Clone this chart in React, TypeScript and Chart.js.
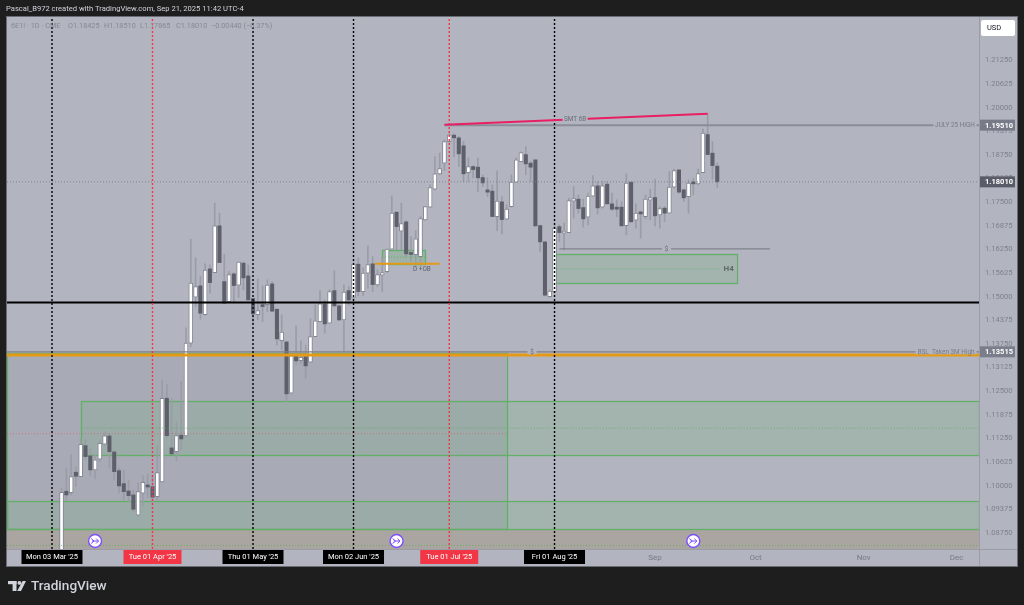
import React, { useEffect, useRef } from "react";
import { Chart, registerables } from "chart.js";

Chart.register(...registerables);

// Daily candles, in session order (first session shown is the third after Mon 03 Mar '25)
const opens = [
  1.0680, 1.09827, 1.09790, 1.1033, 1.10214, 1.11034, 1.10761, 1.10391, 1.10674, 1.11071,
  1.1129, 1.10867, 1.10372, 1.10029, 1.09835, 1.0973, 1.09192, 1.09774, 1.09968, 1.09949,
  1.09685, 1.10073, 1.12288, 1.10973, 1.10875, 1.11309, 1.1129, 1.13743, 1.1496, 1.15259,
  1.14499, 1.15708, 1.1561, 1.16846, 1.15372, 1.14843, 1.15576, 1.15277, 1.15859, 1.15523,
  1.14923, 1.14499, 1.14748, 1.14764, 1.15312, 1.14642, 1.13812, 1.13777, 1.1242, 1.13415,
  1.13282, 1.13388, 1.1324, 1.13917, 1.14314, 1.14782, 1.14272, 1.15134, 1.1473, 1.14359,
  1.15134, 1.14941, 1.15833, 1.15108, 1.15595, 1.15841, 1.15285, 1.15542, 1.15637, 1.1623,
  1.17208, 1.16706, 1.16952, 1.16105, 1.16087, 1.16034, 1.17005, 1.17341, 1.17817, 1.18222,
  1.18505, 1.19076, 1.19245, 1.19174, 1.18962, 1.18256, 1.18415, 1.18399, 1.18124, 1.17798,
  1.17764, 1.17092, 1.17481, 1.17023, 1.17357, 1.18002, 1.18547, 1.18732, 1.18505, 1.18592,
  1.16854, 1.16423, 1.14976, 1.15108, 1.16827, 1.16653, 1.16669, 1.17499, 1.17552, 1.1733,
  1.17076, 1.17632, 1.17904, 1.17341, 1.17949, 1.17428, 1.17304, 1.17341, 1.16854, 1.18002,
  1.16997, 1.17182, 1.17092, 1.17526, 1.17595, 1.17137, 1.17314, 1.17182, 1.1787, 1.18327,
  1.17798, 1.17621, 1.17984, 1.17957, 1.18256, 1.19261, 1.18769, 1.18425,
];
const closes = [
  1.09801, 1.0973, 1.10214, 1.10224, 1.11071, 1.10743, 1.10391, 1.10656, 1.11097, 1.1129,
  1.10875, 1.10346, 1.09968, 1.09817, 1.09711, 1.09351, 1.09817, 1.10066, 1.09941, 1.09669,
  1.10319, 1.12288, 1.11298, 1.10814, 1.11298, 1.11211, 1.13743, 1.1533, 1.1524, 1.14536,
  1.15674, 1.15346, 1.16846, 1.15875, 1.14801, 1.15558, 1.15267, 1.15886, 1.1547, 1.14888,
  1.14518, 1.14605, 1.14711, 1.15277, 1.14589, 1.13857, 1.14034, 1.12402, 1.13407, 1.13275,
  1.13372, 1.13142, 1.13917, 1.14333, 1.14782, 1.14253, 1.15108, 1.1473, 1.14359, 1.15092,
  1.14888, 1.15833, 1.15108, 1.15595, 1.15822, 1.15293, 1.15558, 1.1561, 1.1623, 1.17182,
  1.16827, 1.16907, 1.16105, 1.1609, 1.16502, 1.17039, 1.17357, 1.17859, 1.18222, 1.18362,
  1.19076, 1.19253, 1.19174, 1.18751, 1.18222, 1.18415, 1.18335, 1.18116, 1.17984, 1.17738,
  1.17092, 1.17499, 1.17013, 1.17288, 1.18002, 1.18592, 1.18785, 1.18486, 1.18399, 1.16846,
  1.16423, 1.15013, 1.15118, 1.16785, 1.16669, 1.16687, 1.17515, 1.17568, 1.17304, 1.17031,
  1.17632, 1.17904, 1.17322, 1.17904, 1.17428, 1.17288, 1.17288, 1.16846, 1.17976, 1.16952,
  1.17182, 1.17163, 1.17552, 1.17595, 1.17111, 1.17304, 1.17182, 1.1787, 1.18309, 1.17738,
  1.17587, 1.17976, 1.17957, 1.1823, 1.19298, 1.18732, 1.18441, 1.1801,
];
const highs = [
  1.09915, 1.10444, 1.10796, 1.1047, 1.11211, 1.11211, 1.10973, 1.10788, 1.11185, 1.11404,
  1.11343, 1.10894, 1.10444, 1.10391, 1.10126, 1.09862, 1.10047, 1.1024, 1.10285, 1.10206,
  1.11026, 1.12772, 1.1264, 1.12269, 1.11669, 1.12727, 1.14148, 1.16494, 1.15999, 1.15505,
  1.15841, 1.15814, 1.17447, 1.17182, 1.16097, 1.15637, 1.15603, 1.15894, 1.1589, 1.15814,
  1.14923, 1.15436, 1.15259, 1.15417, 1.15372, 1.14642, 1.14491, 1.13777, 1.13478, 1.142,
  1.13804, 1.13698, 1.14386, 1.14756, 1.15134, 1.14888, 1.15153, 1.15655, 1.14756, 1.15285,
  1.1524, 1.15841, 1.15999, 1.15735, 1.16317, 1.16034, 1.15682, 1.16034, 1.16238, 1.1764,
  1.17216, 1.17447, 1.16978, 1.16563, 1.16722, 1.17092, 1.17357, 1.1793, 1.18679, 1.18769,
  1.19121, 1.1928, 1.1928, 1.19208, 1.19076, 1.18645, 1.18433, 1.18637, 1.18195, 1.18116,
  1.1793, 1.18301, 1.17621, 1.17402, 1.18195, 1.18653, 1.18804, 1.18944, 1.18547, 1.18592,
  1.16854, 1.16423, 1.15153, 1.16827, 1.16872, 1.16917, 1.17579, 1.17886, 1.17666, 1.17552,
  1.17711, 1.18177, 1.18018, 1.18018, 1.18018, 1.17711, 1.17534, 1.17489, 1.18222, 1.18002,
  1.17428, 1.17224, 1.17666, 1.17817, 1.18081, 1.17357, 1.17357, 1.18282, 1.18346, 1.18327,
  1.17825, 1.18063, 1.18108, 1.18346, 1.19412, 1.19809, 1.19076, 1.1851,
];
const lows = [
  1.065, 1.09579, 1.0973, 1.09949, 1.1021, 1.10656, 1.10232, 1.10153, 1.1061, 1.11052,
  1.10444, 1.10126, 1.09782, 1.09597, 1.09552, 1.09288, 1.09148, 1.09439, 1.0965, 1.09526,
  1.09597, 1.10047, 1.11238, 1.1081, 1.10637, 1.1092, 1.11264, 1.13653, 1.14711, 1.14378,
  1.14484, 1.15066, 1.1561, 1.15875, 1.14801, 1.1484, 1.14801, 1.14949, 1.15153, 1.14888,
  1.14272, 1.14359, 1.14314, 1.14579, 1.14589, 1.13698, 1.13566, 1.12198, 1.12402, 1.13169,
  1.13195, 1.12825, 1.1324, 1.13917, 1.14314, 1.14007, 1.14272, 1.14711, 1.1434, 1.13521,
  1.14756, 1.14933, 1.14994, 1.14994, 1.15198, 1.15108, 1.1524, 1.15108, 1.1561, 1.1623,
  1.16211, 1.16211, 1.16034, 1.15902, 1.15753, 1.15769, 1.16986, 1.1733, 1.17798, 1.18195,
  1.18309, 1.1906, 1.18679, 1.18415, 1.18018, 1.18018, 1.18116, 1.17753, 1.17886, 1.17621,
  1.17092, 1.16722, 1.16634, 1.17005, 1.17341, 1.17991, 1.18547, 1.18195, 1.18018, 1.16828,
  1.16166, 1.14994, 1.1496, 1.15108, 1.16431, 1.16211, 1.16669, 1.1705, 1.17182, 1.16812,
  1.16872, 1.17621, 1.17163, 1.17314, 1.17428, 1.17251, 1.17092, 1.16846, 1.16608, 1.16952,
  1.16785, 1.16521, 1.17023, 1.17005, 1.16846, 1.16785, 1.1696, 1.17182, 1.17843, 1.17711,
  1.17489, 1.17182, 1.17666, 1.1793, 1.18256, 1.18724, 1.18081, 1.17865,
];
const firstSession = 2;

// Price axis
const priceMin = 1.083;
const priceMax = 1.2237;
const priceStep = 0.00625;
const topTickLimit = 1.215;

// Time axis, in sessions from Mon 03 Mar '25
const sessionMin = -9.4;
const sessionMax = 193.69;
const monthTickSessions = [126, 147, 169.6, 189];
const monthTickLabels = ["Sep", "Oct", "Nov", "Dec"];

const markerSessions = [0, 21, 42, 63, 83, 105];
const markerLabels = ["Mon 03 Mar '25", "Tue 01 Apr '25", "Thu 01 May '25", "Mon 02 Jun '25", "Tue 01 Jul '25", "Fri 01 Aug '25"];
const markerColors = ["#000000", "#f23645", "#000000", "#000000", "#f23645", "#000000"];
const replaySessions = [9, 72, 134];

// Levels
const lastPrice = 1.1801;
const julyHigh = 1.1951;
const bslLevel = 1.13515;
const orangeLevel = 1.13433;
const blackLevel = 1.1482;
const redDotLevel = 1.1135;
const sweepLevel = 1.16237;
const smtFrom = [82, 1.19518];
const smtTo = [137, 1.19809];

// Zones: [from session, to session, upper price, lower price]
const grayBox = [sessionMin, 95, 1.13486, 1.0883];
const greenUpper = [6, sessionMax, 1.12203, 1.10788];
const greenLower = [sessionMin, sessionMax, 1.09558, 1.0883];
const brownZone = [sessionMin, sessionMax, 1.0883, priceMin];
const brownMid = 1.08393;
const h4Zone = [105, 143, 1.16097, 1.1532];
const obZone = [69, 78, 1.16211, 1.15833];

const priceBadges = [julyHigh, lastPrice, bslLevel];
const priceBadgeColors = ["#777a87", "#595c68", "#7a7d8a"];

const ohlcText = ["6E1! · 1D · CME", "O1.18425", "H1.18510", "L1.17865", "C1.18010", "−0.00440 (−0.37%)"];
const headerText = "Pascal_B972 created with TradingView.com, Sep 21, 2025 11:42 UTC-4";

const FONT = "Roboto, 'Noto Sans', sans-serif";
const PANE = "#b2b5bf";
const GREEN = "#62b068";

function hline(y: number, x0: number, x1: number, color: string, width: number, dash: number[] = [], order = 1) {
  return {
    type: "line" as const,
    data: [{ x: x0, y }, { x: x1, y }],
    borderColor: color,
    borderWidth: width,
    borderDash: dash,
    pointRadius: 0,
    order,
  };
}

const overlay = {
  id: "overlay",
  beforeDraw(chart: any) {
    const c = chart.ctx;
    c.save();
    c.fillStyle = "#1e1e1e";
    c.fillRect(0, 0, 1024, 605);
    c.fillStyle = PANE;
    c.fillRect(6.5, 16.5, 1011, 550);
    c.strokeStyle = "#6b6d75";
    c.lineWidth = 1;
    c.strokeRect(6.5, 16.5, 1011, 550);
    c.strokeStyle = "#9a9da7";
    c.beginPath();
    c.moveTo(979.5, 17);
    c.lineTo(979.5, 566);
    c.moveTo(7, 549.5);
    c.lineTo(1017, 549.5);
    c.stroke();
    c.fillStyle = "#d1d4dc";
    c.font = `7.6px ${FONT}`;
    c.textBaseline = "middle";
    c.textAlign = "left";
    c.fillText(headerText, 6, 9.5);
    // logo
    c.fillStyle = "#d1d4dc";
    c.fillRect(8, 581, 8.5, 3.2);
    c.fillRect(12.6, 581, 3.9, 10);
    c.beginPath();
    c.arc(19.4, 582.9, 1.9, 0, Math.PI * 2);
    c.fill();
    c.beginPath();
    c.moveTo(22.6, 581);
    c.lineTo(26, 581);
    c.lineTo(21, 591);
    c.lineTo(17.2, 591);
    c.closePath();
    c.fill();
    c.font = `500 13.6px ${FONT}`;
    c.fillText("TradingView", 31, 586.5);
    c.restore();
  },
  beforeDatasetsDraw(chart: any) {
    const c = chart.ctx;
    const { x, y } = chart.scales;
    const area = chart.chartArea;
    const rect = (z: number[], fill: string, stroke?: string) => {
      const l = x.getPixelForValue(z[0]);
      const r = x.getPixelForValue(z[1]);
      const t = y.getPixelForValue(z[2]);
      const b = y.getPixelForValue(z[3]);
      c.fillStyle = fill;
      c.fillRect(l, t, r - l, b - t);
      if (stroke) {
        c.strokeStyle = stroke;
        c.lineWidth = 1.3;
        c.strokeRect(Math.round(l) + 0.5, Math.round(t) + 0.5, Math.round(r - l), Math.round(b - t));
      }
    };
    c.save();
    c.beginPath();
    c.rect(area.left, area.top, area.right - area.left, area.bottom - area.top);
    c.clip();
    rect(brownZone, "#aba5a1");
    rect(grayBox, "rgba(90,93,105,0.1)", GREEN);
    rect(greenUpper, "rgba(76,175,80,0.14)", GREEN);
    rect(greenLower, "rgba(76,175,80,0.14)", GREEN);
    rect(h4Zone, "rgba(76,175,80,0.14)", GREEN);
    rect(obZone, "rgba(76,175,80,0.2)", GREEN);
    c.restore();
  },
  afterDatasetsDraw(chart: any) {
    const c = chart.ctx;
    const { x, y } = chart.scales;
    const label = (text: string, cx: number, cy: number, font: string, color: string, gap = 0) => {
      c.font = font;
      c.textAlign = "center";
      c.textBaseline = "middle";
      if (gap > 0) {
        c.fillStyle = PANE;
        c.fillRect(cx - gap, cy - 2.5, gap * 2, 5);
      }
      c.fillStyle = color;
      c.fillText(text, cx, cy + 0.5);
    };
    c.save();
    const small = `6.4px ${FONT}`;
    label("JULY 25 HIGH", 955, y.getPixelForValue(julyHigh), small, "#787b86", 21.5);
    label("BSL  Taken 3M High", 946, y.getPixelForValue(bslLevel), small, "#787b86", 30.5);
    label("$", x.getPixelForValue(100.3), y.getPixelForValue(bslLevel), small, "#6a6d78", 4.5);
    label("$", x.getPixelForValue(128.4), y.getPixelForValue(sweepLevel), small, "#6a6d78", 4.5);
    const smtX = 109.3;
    const smtY = smtFrom[1] + ((smtTo[1] - smtFrom[1]) * (smtX - smtFrom[0])) / (smtTo[0] - smtFrom[0]);
    label("SMT 6B", x.getPixelForValue(smtX), y.getPixelForValue(smtY), small, "#686b76", 12.5);
    label("D +OB", x.getPixelForValue(77.3), y.getPixelForValue(1.15708), `6.4px ${FONT}`, "#5d606b");
    label("H4", x.getPixelForValue(141.4), y.getPixelForValue(1.15708), `bold 8px ${FONT}`, "#5f6b66");

    // OHLC status line
    c.font = `7.3px ${FONT}`;
    c.textAlign = "left";
    c.fillStyle = "#868994";
    const ohlcX = [11, 68, 104, 140, 176, 211];
    ohlcText.forEach((t, i) => c.fillText(t, ohlcX[i], 26));

    // date markers on the time axis
    markerSessions.forEach((s, i) => {
      const px = x.getPixelForValue(s);
      c.font = `7.5px ${FONT}`;
      const w = i === 1 || i === 4 ? 58 : 61;
      c.fillStyle = markerColors[i];
      c.fillRect(px - w / 2, 550, w, 14);
      c.fillStyle = "#ffffff";
      c.textAlign = "center";
      c.fillText(markerLabels[i], px, 557.5);
    });

    // replay icons
    replaySessions.forEach((s) => {
      const px = x.getPixelForValue(s);
      const py = 541;
      c.beginPath();
      c.arc(px, py, 6.5, 0, Math.PI * 2);
      c.fillStyle = "#ffffff";
      c.fill();
      c.lineWidth = 1.4;
      c.strokeStyle = "#7c4dff";
      c.stroke();
      c.lineWidth = 1;
      c.beginPath();
      c.moveTo(px - 4, py - 2.5);
      c.lineTo(px - 1, py);
      c.lineTo(px - 4, py + 2.5);
      c.moveTo(px - 3, py);
      c.lineTo(px + 3.5, py);
      c.moveTo(px + 1, py - 2.5);
      c.lineTo(px + 3.5, py);
      c.lineTo(px + 1, py + 2.5);
      c.stroke();
    });

    // price badges
    c.textAlign = "left";
    priceBadges.forEach((v, i) => {
      const py = y.getPixelForValue(v);
      c.fillStyle = priceBadgeColors[i];
      c.fillRect(980, py - 5.5, 35, 11);
      c.fillStyle = "#ffffff";
      c.font = `bold 7.5px ${FONT}`;
      c.fillText(v.toFixed(5), 985, py + 0.5);
    });

    // currency button
    c.fillStyle = "#ffffff";
    c.beginPath();
    c.roundRect(981, 20, 34, 16, 2);
    c.fill();
    c.fillStyle = "#131722";
    c.font = `7.5px ${FONT}`;
    c.fillText("USD", 987, 28.5);
    c.restore();
  },
};

export default function App() {
  const ref = useRef<HTMLCanvasElement>(null);
  useEffect(() => {
    document.body.style.margin = "0";
    document.documentElement.style.background = "#1e1e1e";
    const sessions = opens.map((_, i) => i + firstSession);
    const bodyData = (wantUp: boolean) =>
      sessions
        .map((s, i) => ({ up: closes[i] >= opens[i], x: s, y: [Math.min(opens[i], closes[i]), Math.max(opens[i], closes[i])] }))
        .filter((b) => b.up === wantUp)
        .map(({ x, y }) => ({ x, y }));
    const verticals = markerSessions.map((s, i) => ({
      type: "line" as const,
      data: [{ x: s, y: priceMin }, { x: s, y: priceMax }],
      borderColor: markerColors[i],
      borderWidth: 1.4,
      borderDash: [2, 2],
      pointRadius: 0,
      order: 1,
    }));
    const chart = new Chart(ref.current!, {
      type: "bar",
      data: {
        datasets: [
          {
            data: sessions.map((s, i) => ({ x: s, y: [lows[i], highs[i]] })),
            backgroundColor: "#9a9da7",
            barThickness: 1,
            grouped: false,
            order: 4,
          },
          {
            data: bodyData(true),
            backgroundColor: "#ffffff",
            borderColor: "#858893",
            borderWidth: 1,
            borderSkipped: false,
            barThickness: 4,
            minBarLength: 2,
            grouped: false,
            order: 3,
          },
          {
            data: bodyData(false),
            backgroundColor: "#5d606b",
            barThickness: 3.4,
            minBarLength: 2,
            grouped: false,
            order: 3,
          },
          hline(lastPrice, sessionMin, sessionMax, "#83868f", 1, [1, 2], 2),
          hline(redDotLevel, sessionMin, 95, "rgba(242,54,69,0.45)", 1, [1, 2]),
          ...verticals,
          hline((greenUpper[2] + greenUpper[3]) / 2, 6, sessionMax, "rgba(76,175,80,0.7)", 1, [1, 2]),
          hline(brownMid, sessionMin, sessionMax, "rgba(76,175,80,0.7)", 1, [1, 2]),
          hline((h4Zone[2] + h4Zone[3]) / 2, 105, 139.6, "rgba(76,175,80,0.7)", 1, [1, 2]),
          hline((obZone[2] + obZone[3]) / 2, 69, 78, "rgba(76,175,80,0.7)", 1, [1, 2]),
          hline(blackLevel, sessionMin, sessionMax, "#000000", 2),
          hline(julyHigh, 82, sessionMax, "#8a8d98", 2),
          hline(bslLevel, sessionMin, sessionMax, "#7d808b", 1.2),
          hline(orangeLevel, sessionMin, sessionMax, "#e59a17", 3),
          hline(1.15841, 67.5, 81, "#e59a17", 2),
          hline(sweepLevel, 106, 150, "#74777f", 1),
          {
            type: "line" as const,
            data: [{ x: smtFrom[0], y: smtFrom[1] }, { x: smtTo[0], y: smtTo[1] }],
            borderColor: "#e91e63",
            borderWidth: 2,
            pointRadius: 0,
            order: 0,
          },
        ] as any,
      },
      options: {
        responsive: false,
        animation: false,
        events: [],
        layout: { autoPadding: false, padding: { left: 7, top: 17, right: 7, bottom: 39 } },
        plugins: { legend: { display: false }, tooltip: { enabled: false } },
        scales: {
          x: {
            type: "linear",
            min: sessionMin,
            max: sessionMax,
            offset: false,
            grid: { display: false, drawTicks: false },
            border: { display: false },
            afterBuildTicks(s: any) {
              s.ticks = monthTickSessions.map((v) => ({ value: v }));
            },
            afterFit(s: any) {
              s.height = 17;
            },
            ticks: {
              autoSkip: false,
              maxRotation: 0,
              padding: 4,
              color: "#787b86",
              font: { family: FONT, size: 8 },
              callback: (v: any) => monthTickLabels[monthTickSessions.indexOf(Number(v))] ?? "",
            },
          },
          y: {
            type: "linear",
            position: "right",
            min: priceMin,
            max: priceMax,
            grid: { display: false, drawTicks: false },
            border: { display: false },
            afterFit(s: any) {
              s.width = 38;
            },
            ticks: {
              stepSize: priceStep,
              includeBounds: false,
              autoSkip: false,
              padding: 6,
              labelOffset: 1,
              color: "#7f828d",
              font: { family: FONT, size: 7.6 },
              callback: (v: any) => (Number(v) > topTickLimit ? "" : Number(v).toFixed(5)),
            },
          },
        },
      },
      plugins: [overlay],
    } as any);
    return () => chart.destroy();
  }, []);
  return <canvas ref={ref} width={1024} height={605} style={{ display: "block" }} />;
}
